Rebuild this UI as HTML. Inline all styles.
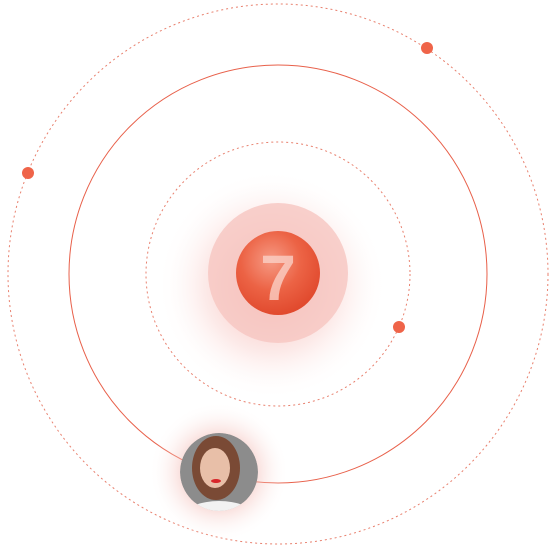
<!DOCTYPE html>
<html><head><meta charset="utf-8"><style>
html,body{margin:0;padding:0;background:#fff;width:560px;height:554px;overflow:hidden}
svg{display:block}
</style></head><body>
<svg width="560" height="554" viewBox="0 0 560 554">
<defs>
<radialGradient id="glow" cx="0.5" cy="0.5" r="0.5">
<stop offset="0" stop-color="#e8493a" stop-opacity="0.45"/>
<stop offset="0.6" stop-color="#ef7a70" stop-opacity="0.15"/>
<stop offset="1" stop-color="#ffffff" stop-opacity="0"/>
</radialGradient>
<radialGradient id="ball" cx="0.42" cy="0.35" r="0.65">
<stop offset="0" stop-color="#f69a84"/>
<stop offset="0.55" stop-color="#ec6345"/>
<stop offset="1" stop-color="#e14a2e"/>
</radialGradient>
<radialGradient id="aglow" cx="0.5" cy="0.5" r="0.5">
<stop offset="0.5" stop-color="#f2b4ad" stop-opacity="0.5"/>
<stop offset="1" stop-color="#fff" stop-opacity="0"/>
</radialGradient>
<radialGradient id="face" cx="0.5" cy="0.45" r="0.6">
<stop offset="0" stop-color="#e9c2ad"/>
<stop offset="0.45" stop-color="#8a5a45"/>
<stop offset="1" stop-color="#8f8f8f"/>
</radialGradient>
<clipPath id="ac"><circle cx="219" cy="472" r="39"/></clipPath>
</defs>
<circle cx="278" cy="274" r="270" fill="none" stroke="#e8806e" stroke-width="1" stroke-dasharray="2 3"/>
<circle cx="278" cy="274" r="209" fill="none" stroke="#e8604a" stroke-width="1"/>
<circle cx="278" cy="274" r="132" fill="none" stroke="#e8806e" stroke-width="1" stroke-dasharray="2 3"/>
<circle cx="272" cy="285" r="115" fill="url(#glow)"/>
<circle cx="278" cy="273" r="70" fill="#f6c5c0" opacity="0.8"/>
<circle cx="278" cy="273" r="42" fill="url(#ball)"/>
<text x="278" y="300" text-anchor="middle" font-family="Liberation Sans, sans-serif" font-weight="bold" font-size="64" fill="#fbd0c6" opacity="0.8">7</text>
<circle cx="427" cy="48" r="6" fill="#ef6449"/>
<circle cx="28" cy="173" r="6" fill="#ef6449"/>
<circle cx="399" cy="327" r="6" fill="#ef6449"/>
<circle cx="219" cy="472" r="70" fill="url(#aglow)"/>
<g clip-path="url(#ac)">
<circle cx="219" cy="472" r="39" fill="#8c8c8c"/>
<ellipse cx="216" cy="468" rx="24" ry="32" fill="#7a4a35"/>
<ellipse cx="215" cy="468" rx="15" ry="20" fill="#e8bfa8"/>
<path d="M212 463 l8 0" stroke="#e02a2a" stroke-width="0"/>
<ellipse cx="216" cy="481" rx="5" ry="2" fill="#d8262a"/>
<ellipse cx="219" cy="515" rx="34" ry="14" fill="#f2f2f2"/>
</g>
</svg>
</body></html>
